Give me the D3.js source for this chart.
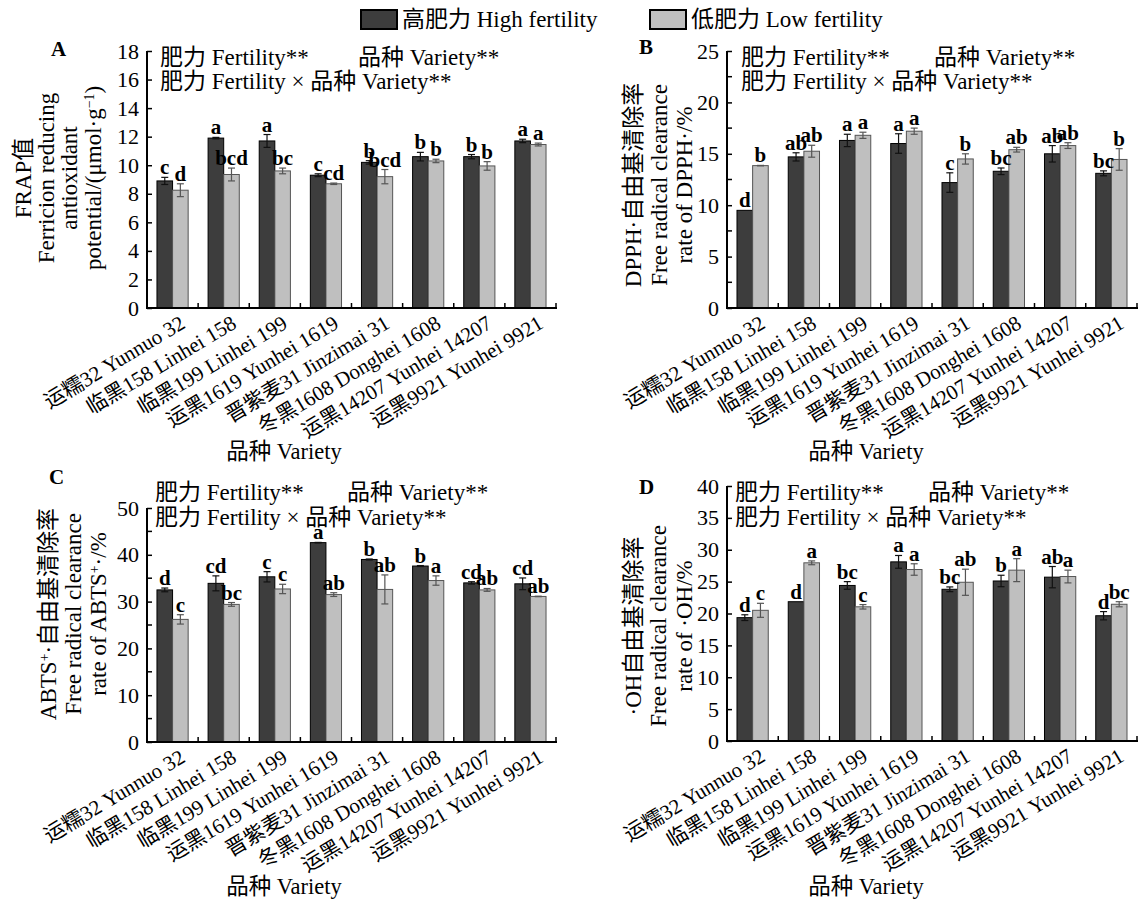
<!DOCTYPE html>
<html><head><meta charset="utf-8">
<script src="https://cdn.jsdelivr.net/npm/d3@7"></script>
<style>
body{margin:0;background:#fff}
svg text{font-family:'Liberation Serif','Times New Roman','Noto Sans CJK SC',serif;fill:#000}
</style>
</head><body><svg id="c" width="1141" height="902"></svg>
<script>
// ---------------- data ----------------
const categories = ["运糯32 Yunnuo 32","临黑158 Linhei 158","临黑199 Linhei 199","运黑1619 Yunhei 1619","晋紫麦31 Jinzimai 31","冬黑1608 Donghei 1608","运黑14207 Yunhei 14207","运黑9921 Yunhei 9921"];
const seriesNames = ["高肥力 High fertility","低肥力 Low fertility"];

const frapHigh = [8.9,11.9,11.7,9.3,10.2,10.6,10.6,11.7];
const frapHighErr = [0.25,0.05,0.45,0.1,0.12,0.3,0.15,0.12];
const frapLow = [8.25,9.35,9.6,8.7,9.2,10.3,9.95,11.45];
const frapLowErr = [0.45,0.45,0.2,0.05,0.5,0.12,0.3,0.1];
const frapHighLetters = ["c","a","a","c","b","b","b","a"];
const frapLowLetters = ["d","bcd","bc","cd","bcd","b","b","a"];

const dpphHigh = [9.5,14.7,16.3,16.0,12.2,13.3,15.0,13.1];
const dpphHighErr = [0,0.4,0.6,0.95,0.95,0.32,0.8,0.24];
const dpphLow = [13.85,15.25,16.8,17.2,14.5,15.4,15.8,14.45];
const dpphLowErr = [0.02,0.58,0.3,0.3,0.5,0.23,0.28,1.05];
const dpphHighLetters = ["d","ab","a","a","c","bc","ab","bc"];
const dpphLowLetters = ["b","ab","a","a","b","ab","ab","b"];

const abtsHigh = [32.5,33.9,35.3,42.6,39.0,37.6,34.0,33.8];
const abtsHighErr = [0.4,1.6,1.1,0.05,0.1,0.1,0.25,1.25];
const abtsLow = [26.2,29.4,32.7,31.5,32.6,34.5,32.5,31.1];
const abtsLowErr = [1.0,0.4,1.0,0.4,3.1,1.0,0.3,0.05];
const abtsHighLetters = ["d","cd","c","a","b","b","cd","cd"];
const abtsLowLetters = ["c","bc","c","ab","ab","a","ab","ab"];

const ohHigh = [19.35,21.85,24.4,28.1,23.8,25.1,25.7,19.65];
const ohHighErr = [0.45,0,0.6,1.0,0.37,0.9,1.67,0.65];
const ohLow = [20.5,27.95,21.05,26.9,24.9,26.8,25.8,21.45];
const ohLowErr = [1.1,0.3,0.35,0.9,2.05,1.8,1.0,0.4];
const ohHighLetters = ["d","d","bc","a","bc","b","ab","d"];
const ohLowLetters = ["c","a","c","a","ab","a","a","bc"];

const ticksA = [0,2,4,6,8,10,12,14,16,18];
const ticksB = [0,5,10,15,20,25];
const ticksC = [0,10,20,30,40,50];
const ticksD = [0,5,10,15,20,25,30,35,40];

// ---------------- layout ----------------
const svg = d3.select("#c");
const FONT = 21, BIG = 23;
const darkFill = "#3d3d3d", lightFill = "#bfbfbf";

const panels = [
  {letter:"A", lx:51, ly:56, x0:147, x1:556, yb:308, yt:51, max:18, ticks:ticksA, minor:false,
   high:frapHigh, highErr:frapHighErr, low:frapLow, lowErr:frapLowErr, hl:frapHighLetters, ll:frapLowLetters,
   stats:{x:160, y1:65, y2:89, x2:358},
   titleCy:178, titleLines:[{x:31,t:["FRAP值"]},{x:54,t:["Ferricion reducing"]},{x:77,t:["antioxidant"]},{x:101,t:["potential/(μmol·g",["−1","sup"],")"]}],
   xTitle:{x:284, y:459}},
  {letter:"B", lx:639, ly:54, x0:727, x1:1137, yb:308, yt:51, max:25, ticks:ticksB, minor:true,
   high:dpphHigh, highErr:dpphHighErr, low:dpphLow, lowErr:dpphLowErr, hl:dpphHighLetters, ll:dpphLowLetters,
   stats:{x:741, y1:65, y2:89, x2:934},
   titleCy:185, titleLines:[{x:641,t:["DPPH·自由基清除率"]},{x:667,t:["Free radical clearance"]},{x:692,t:["rate of DPPH·/%"]}],
   xTitle:{x:866, y:459}},
  {letter:"C", lx:49, ly:484, x0:147, x1:556, yb:742, yt:508, max:50, ticks:ticksC, minor:true,
   high:abtsHigh, highErr:abtsHighErr, low:abtsLow, lowErr:abtsLowErr, hl:abtsHighLetters, ll:abtsLowLetters,
   stats:{x:155, y1:500, y2:525, x2:347},
   titleCy:614, titleLines:[{x:56,t:["ABTS",["+","sup"],"·自由基清除率"]},{x:81,t:["Free radical clearance"]},{x:106,t:["rate of ABTS",["+","sup"],"·/%"]}],
   xTitle:{x:284, y:894}},
  {letter:"D", lx:639, ly:494, x0:727, x1:1137, yb:741, yt:486, max:40, ticks:ticksD, minor:false,
   high:ohHigh, highErr:ohHighErr, low:ohLow, lowErr:ohLowErr, hl:ohHighLetters, ll:ohLowLetters,
   stats:{x:735, y1:500, y2:525, x2:928},
   titleCy:626, titleLines:[{x:641,t:["·OH自由基清除率"]},{x:666,t:["Free radical clearance"]},{x:692,t:["rate of ·OH/%"]}],
   xTitle:{x:866, y:894}}
];

function addRich(sel, parts, fs){
  parts.forEach(p=>{
    if(typeof p === "string") sel.append("tspan").text(p);
    else sel.append("tspan").attr("baseline-shift","super").attr("font-size", fs*0.6).text(p[0]);
  });
}

panels.forEach(P=>{
  const g = svg.append("g");
  const x = d3.scaleBand().domain(categories).range([P.x0, P.x1]).paddingInner(0).paddingOuter(0);
  const y = d3.scaleLinear().domain([0, P.max]).range([P.yb, P.yt]);
  const bw = x.bandwidth()*0.305;

  const bars = [];
  categories.forEach((c,i)=>{
    const cx = x(c) + x.bandwidth()/2;
    bars.push({x:cx-bw, v:P.high[i], e:P.highErr[i], l:P.hl[i], dark:true});
    bars.push({x:cx, v:P.low[i], e:P.lowErr[i], l:P.ll[i], dark:false});
  });
  g.selectAll("rect.bar").data(bars).join("rect")
    .attr("x", d=>d.x).attr("y", d=>y(d.v)).attr("width", bw).attr("height", d=>y(0)-y(d.v))
    .attr("fill", d=>d.dark?darkFill:lightFill)
    .attr("stroke", d=>d.dark?"#000":"#555").attr("stroke-width",1);
  bars.filter(d=>d.e>0).forEach(d=>{
    const cx = d.x+bw/2, col = d.dark?"#111":"#555";
    g.append("line").attr("x1",cx).attr("x2",cx).attr("y1",y(d.v-d.e)).attr("y2",y(d.v+d.e)).attr("stroke",col).attr("stroke-width",1.2);
    [d.v-d.e,d.v+d.e].forEach(v=>g.append("line").attr("x1",cx-3.5).attr("x2",cx+3.5).attr("y1",y(v)).attr("y2",y(v)).attr("stroke",col).attr("stroke-width",1.2));
  });
  g.selectAll("text.sig").data(bars).join("text")
    .attr("x", d=>d.x+bw/2).attr("y", d=>y(d.v+d.e)-3)
    .attr("text-anchor","middle").attr("font-size",FONT).attr("font-weight","bold").text(d=>d.l);

  // y axis
  const yAxis = d3.axisLeft(y).tickValues(P.ticks).tickSize(-5).tickPadding(8).tickFormat(d3.format("d"));
  const ya = g.append("g").attr("transform",`translate(${P.x0},0)`).call(yAxis);
  ya.select(".domain").attr("stroke","#000").attr("stroke-width",2).attr("d",`M0,${P.yt}V${P.yb}`);
  ya.selectAll(".tick line").attr("stroke","#000").attr("stroke-width",1.5);
  ya.selectAll(".tick text").attr("font-size",22).attr("font-family","'Liberation Serif',serif");
  if(P.minor){
    const step = P.ticks[1]-P.ticks[0];
    P.ticks.slice(0,-1).forEach(t=>{
      g.append("line").attr("x1",P.x0).attr("x2",P.x0+5).attr("y1",y(t+step/2)).attr("y2",y(t+step/2)).attr("stroke","#000").attr("stroke-width",1.5);
    });
  }
  // x axis
  g.append("line").attr("x1",P.x0-1).attr("x2",P.x1+1).attr("y1",P.yb).attr("y2",P.yb).attr("stroke","#000").attr("stroke-width",2);
  d3.range(categories.length+1).forEach(i=>{
    const tx = P.x0 + i*x.step();
    g.append("line").attr("x1",tx).attr("x2",tx).attr("y1",P.yb).attr("y2",P.yb-5).attr("stroke","#000").attr("stroke-width",1.5);
  });
  categories.forEach(c=>{
    const cx = x(c)+x.bandwidth()/2 + 14, cy = P.yb + 19;
    g.append("text").attr("transform",`translate(${cx},${cy}) rotate(-31)`)
      .attr("text-anchor","end").attr("font-size",FONT).text(c);
  });
  g.append("text").attr("x",P.xTitle.x).attr("y",P.xTitle.y).attr("text-anchor","middle").attr("font-size",22.5).text("品种 Variety");

  P.titleLines.forEach(L=>{
    const t = g.append("text").attr("transform",`translate(${L.x},${P.titleCy}) rotate(-90)`)
      .attr("text-anchor","middle").attr("font-size",BIG);
    addRich(t, L.t, BIG);
  });

  g.append("text").attr("x",P.stats.x).attr("y",P.stats.y1).attr("font-size",BIG).text("肥力 Fertility**");
  g.append("text").attr("x",P.stats.x2).attr("y",P.stats.y1).attr("font-size",BIG).text("品种 Variety**");
  g.append("text").attr("x",P.stats.x).attr("y",P.stats.y2).attr("font-size",BIG).text("肥力 Fertility × 品种 Variety**");

  g.append("text").attr("x",P.lx).attr("y",P.ly).attr("font-size",21).attr("font-weight","bold").text(P.letter);
});

// legend
const leg = svg.append("g");
[{x:361, fill:darkFill, t:seriesNames[0]},{x:650, fill:lightFill, t:seriesNames[1]}].forEach(L=>{
  leg.append("rect").attr("x",L.x).attr("y",10).attr("width",36).attr("height",19).attr("fill",L.fill).attr("stroke","#000").attr("stroke-width",2);
  leg.append("text").attr("x",L.x+41).attr("y",27).attr("font-size",BIG).text(L.t);
});
</script>
</body></html>
